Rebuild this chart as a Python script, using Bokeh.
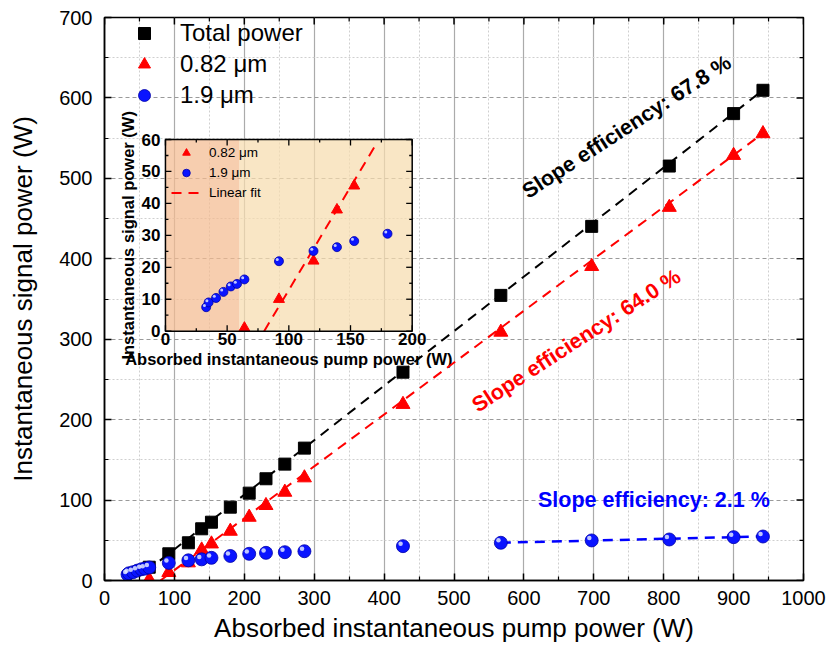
import numpy as np
from bokeh.plotting import figure
from bokeh.models import Range1d, Legend, LegendItem, FixedTicker
from bokeh.core.properties import value
from bokeh.transform import dodge
from bokeh.embed import file_html
from bokeh.resources import INLINE

# ---------------- data ----------------
pump_total = [64, 92, 120, 139, 153, 180, 207, 231, 258, 286, 427, 567, 697, 808, 900, 942]
total_power = [16.5, 33.2, 46.9, 64.3, 72.5, 91.2, 108.6, 126.5, 144.7, 164.6,
               259.0, 354.5, 440.3, 515.3, 580.5, 609.5]

pump_082 = [64, 92, 120, 139, 153, 180, 207, 231, 258, 286, 427, 567, 697, 808, 900, 942]
power_082 = [1.0, 10.0, 22.0, 38.0, 45.5, 61.3, 78.7, 93.3, 109.8, 127.7,
             219.0, 308.8, 390.5, 464.0, 528.6, 555.6]

pump_19 = [33, 35, 41, 47, 53, 58, 64, 92, 120, 139, 153, 180, 207, 231, 258, 286,
           427, 567, 697, 808, 900, 942]
power_19 = [7.5, 9.0, 10.4, 12.3, 14.0, 14.8, 16.2, 21.9, 25.1, 26.3, 28.2, 30.5,
            33.2, 34.4, 35.2, 36.4, 42.7, 46.9, 49.8, 51.0, 53.9, 54.7]

# linear fits: slope, intercept, x-extent
fit_total = dict(slope=0.678, intercept=-29.0, x=[60, 945])
fit_082 = dict(slope=0.645, intercept=-51.6, x=[80, 945])
fit_082_inset = dict(slope=0.645, intercept=-51.6, x=[80, 170])
fit_19 = dict(slope=0.021, intercept=35.0, x=[567, 942])

x_ticks = list(range(0, 1001, 100))
x_minor = list(range(50, 1000, 100))
y_ticks = list(range(0, 701, 100))
y_minor = list(range(50, 700, 100))

ix_ticks = [0, 50, 100, 150, 200]
ix_minor = [25, 75, 125, 175]
iy_ticks = [0, 10, 20, 30, 40, 50, 60]
iy_minor = [5, 15, 25, 35, 45, 55]
ix_labels = [str(t) for t in ix_ticks]
iy_labels = [str(t) for t in iy_ticks]

FONT = "Liberation Sans"
RED = "#ff0000"
BLUE = "#0000ff"


def fit_y(f):
    return [f["slope"] * x + f["intercept"] for x in f["x"]]


# ---------------- main figure ----------------
p = figure(width=829, height=648, x_range=Range1d(0, 1000), y_range=Range1d(0, 700),
           output_backend="svg", toolbar_location=None,
           min_border_left=104, min_border_right=26, min_border_top=17, min_border_bottom=68)
p.background_fill_color = "white"
p.outline_line_color = "black"
p.outline_line_width = 1.5

xt = FixedTicker(ticks=x_ticks, minor_ticks=x_minor)
yt = FixedTicker(ticks=y_ticks, minor_ticks=y_minor)
p.xaxis.ticker = xt
p.yaxis.ticker = yt

for ax in [p.xaxis[0], p.yaxis[0]]:
    ax.major_tick_in = 7
    ax.major_tick_out = 0
    ax.minor_tick_in = 4
    ax.minor_tick_out = 0
    ax.axis_line_width = 1.5
    ax.major_tick_line_width = 1.5
    ax.minor_tick_line_width = 1.2
    ax.major_label_text_font = FONT
    ax.major_label_text_font_size = "20px"
    ax.major_label_text_color = "black"
    ax.axis_label_text_font = FONT
    ax.axis_label_text_font_size = "26px"
    ax.axis_label_text_font_style = "normal"
    ax.axis_label_text_color = "black"

p.xaxis.axis_label = "Absorbed instantaneous pump power (W)"
p.yaxis.axis_label = "Instantaneous signal power (W)"
p.xaxis.major_label_standoff = 10
p.xaxis.axis_label_standoff = 5
p.yaxis.major_label_standoff = 12
p.yaxis.axis_label_standoff = 18

p.xgrid.grid_line_color = "#ababab"
p.xgrid.grid_line_width = 1.2
p.xgrid.minor_grid_line_color = "#cfcfcf"
p.xgrid.minor_grid_line_dash = "2 2"
p.ygrid.grid_line_color = "#9a9a9a"
p.ygrid.grid_line_dash = "4 3"
p.ygrid.minor_grid_line_color = "#cfcfcf"
p.ygrid.minor_grid_line_dash = "2 2"

# ticks of the top and right frame sides (inward)
mtick = dict(length_units="screen", line_color="black")
p.ray(x=x_ticks, y=700, length=7, angle=-np.pi / 2, line_width=1.5, **mtick)
p.ray(x=x_minor, y=700, length=4, angle=-np.pi / 2, line_width=1.2, **mtick)
p.ray(x=1000, y=y_ticks, length=7, angle=np.pi, line_width=1.5, **mtick)
p.ray(x=1000, y=y_minor, length=4, angle=np.pi, line_width=1.2, **mtick)

# ---------------- inset (sub-coordinates of the main plot) ----------------
xy = p.subplot(x_source=Range1d(0, 200), y_source=Range1d(0, 60),
               x_target=Range1d(87.2, 440.2), y_target=Range1d(310.0, 548.3))

band_edge = 60
xy.quad(left=[0], right=[band_edge], bottom=[0], top=[60], fill_color="#f4bb90",
        fill_alpha=0.72, line_color=None)
xy.quad(left=[band_edge], right=[200], bottom=[0], top=[60], fill_color="#f6dcae",
        fill_alpha=0.72, line_color=None)

ri_line = xy.line(fit_082_inset["x"], fit_y(fit_082_inset), line_color=RED, line_width=2,
                  line_dash="10 7")

in_082 = [(x, y) for x, y in zip(pump_082, power_082) if x <= 200 and y <= 60]
in_19 = [(x, y) for x, y in zip(pump_19, power_19) if x <= 200 and y <= 60]
ri_tri = xy.scatter([a for a, b in in_082], [b for a, b in in_082], marker="triangle",
                    size=11, fill_color=RED, line_color=RED)
ri_circ = xy.scatter([a for a, b in in_19], [b for a, b in in_19], marker="circle", size=9,
                     fill_color="#0a14ff", line_color="#0000a8", line_width=0.8)
xy.scatter(x=dodge("x", -1.4), y=dodge("y", 0.55),
           source=dict(x=[a for a, b in in_19], y=[b for a, b in in_19]),
           marker="circle", size=3, fill_color="#e0e6ff", line_color=None, fill_alpha=0.85)

xy.quad(left=[0], right=[200], bottom=[0], top=[60], fill_color=None, line_color="black",
        line_width=1.5)
tick_kw = dict(length_units="screen", line_color="black", line_width=1.3)
xy.ray(x=ix_ticks, y=0, length=6, angle=np.pi / 2, **tick_kw)
xy.ray(x=ix_ticks, y=60, length=6, angle=-np.pi / 2, **tick_kw)
xy.ray(x=ix_minor, y=0, length=3, angle=np.pi / 2, **tick_kw)
xy.ray(x=ix_minor, y=60, length=3, angle=-np.pi / 2, **tick_kw)
xy.ray(x=0, y=iy_ticks, length=6, angle=0, **tick_kw)
xy.ray(x=200, y=iy_ticks, length=6, angle=np.pi, **tick_kw)
xy.ray(x=0, y=iy_minor, length=3, angle=0, **tick_kw)
xy.ray(x=200, y=iy_minor, length=3, angle=np.pi, **tick_kw)

lab_kw = dict(text_font=value(FONT), text_font_style="bold", text_font_size="17px",
              text_color="black")
xy.text(x=ix_ticks, y=0, text=ix_labels, y_offset=2, text_align="center",
        text_baseline="top", **lab_kw)
xy.text(x=0, y=iy_ticks, text=iy_labels, x_offset=-5, text_align="right",
        text_baseline="middle", **lab_kw)
title_kw = dict(text_font=value(FONT), text_font_style="bold", text_font_size="16.5px",
                text_color="black", text_align="center", text_baseline="middle")
xy.text(x=[100], y=[0], text=["Absorbed instantaneous pump power (W)"], y_offset=28,
        **title_kw)
xy.text(x=[0], y=[30], text=["Instantaneous signal power (W)"], x_offset=-37,
        angle=np.pi / 2, **title_kw)

# ---------------- main data ----------------
p.line(fit_total["x"], fit_y(fit_total), line_color="black", line_width=2, line_dash="10 7")
p.line(fit_082["x"], fit_y(fit_082), line_color=RED, line_width=2, line_dash="10 7")
p.line(fit_19["x"], fit_y(fit_19), line_color=BLUE, line_width=2.5, line_dash="10 7")

r_sq = p.scatter(pump_total, total_power, marker="square", size=12, fill_color="black",
                 line_color="black")
r_tri = p.scatter(pump_082, power_082, marker="triangle", size=14, fill_color=RED,
                  line_color=RED)
r_circ = p.scatter(pump_19, power_19, marker="circle", size=13, fill_color="#0a14ff",
                   line_color="#0000a8", line_width=0.8)
p.scatter(x=dodge("x", -3.4), y=dodge("y", 3.0), source=dict(x=pump_19, y=power_19),
          marker="circle", size=4.5, fill_color="#e0e6ff", line_color=None, fill_alpha=0.85)

ann_kw = dict(text_font=value(FONT), text_font_style="bold", text_font_size="21.5px",
              text_align="center", text_baseline="middle")
p.text(x=[747], y=[564], text=["Slope efficiency: 67.8 %"], angle=0.576, text_color="black",
       **ann_kw)
p.text(x=[675], y=[298], text=["Slope efficiency: 64.0 %"], angle=0.576, text_color=RED,
       **ann_kw)
p.text(x=[786], y=[100], text=["Slope efficiency: 2.1 %"], angle=0, text_color=BLUE, **ann_kw)

# ---------------- legends ----------------
leg = Legend(items=[LegendItem(label="Total power", renderers=[r_sq]),
                    LegendItem(label="0.82 μm", renderers=[r_tri]),
                    LegendItem(label="1.9 μm", renderers=[r_circ])],
             location=(25, 470), glyph_width=30, glyph_height=30, spacing=1,
             label_standoff=21, padding=0, margin=0, border_line_color=None,
             background_fill_alpha=0, label_text_font=FONT, label_text_font_size="24px",
             label_text_color="black")
p.add_layout(leg)

leg2 = Legend(items=[LegendItem(label="0.82 μm", renderers=[ri_tri]),
                     LegendItem(label="1.9 μm", renderers=[ri_circ]),
                     LegendItem(label="Linear fit", renderers=[ri_line])],
              location=(67, 378), glyph_width=30, glyph_height=19, spacing=1,
              label_standoff=8, padding=0, margin=0, border_line_color=None,
              background_fill_alpha=0, label_text_font=FONT, label_text_font_size="13.5px",
              label_text_color="black", label_height=19)
p.add_layout(leg2)

open("out.html", "w").write(file_html(p, INLINE))
